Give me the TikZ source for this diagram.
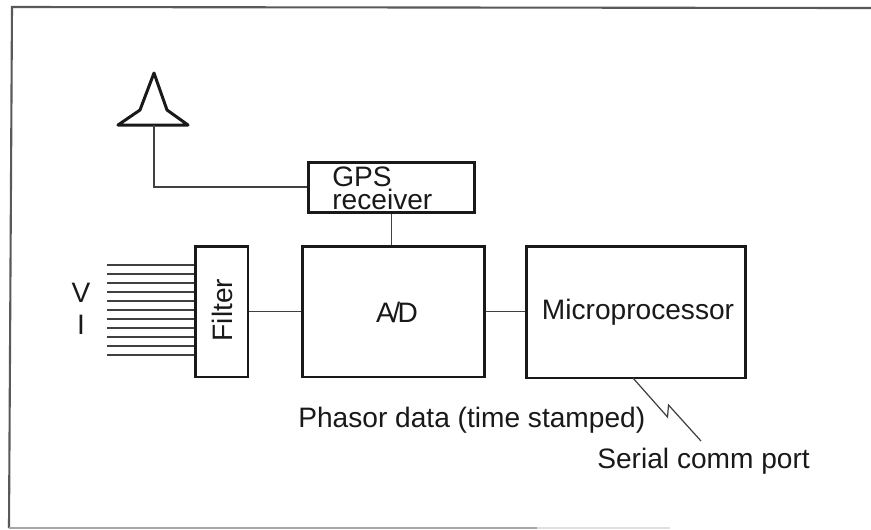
\documentclass[tikz,border=0pt]{standalone}
\usepackage{fontspec}
\setmainfont{Liberation Sans}
\usetikzlibrary{positioning}
\tikzset{
  blockbox/.style={draw=black!90, line width=1.7pt, fill=white, inner sep=0pt},
  wire/.style={draw=black!75, line width=1.1pt},
  lbl/.style={inner sep=0pt, text=black!90, font=\fontsize{16}{13}\selectfont}
}

\begin{document}
\begin{tikzpicture}[x=0.02cm, y=-0.02cm]
 \useasboundingbox (0,0) rectangle (871,529);

 % scanned page edge
 \coordinate (tr) at (871,8);
 \coordinate (tl) at (12,7);
 \coordinate (bl) at (9,528);
 \coordinate (bm) at (537,528);
 \coordinate (br) at (670,528);
 \draw[draw=black!65, line width=1.2pt] (tr) -- (tl) -- (bl);
 \draw[draw=black!35, line width=0.8pt] (bl) -- (bm);
 \draw[draw=black!12, line width=0.8pt] (bm) -- (br);

 % blocks
 \node[blockbox, minimum width=1.06cm, minimum height=2.62cm] (filter) at (221.5,311.5) {};
 \node[blockbox, minimum width=3.66cm, minimum height=2.62cm] (ad) at (393.5,311.5) {};
 \node[blockbox, minimum width=4.4cm, minimum height=2.64cm] (micro) at (636,312) {};
 \node[blockbox, minimum width=3.34cm, minimum height=1cm] (gps) at (391.5,187) {};

 % labels
 \node[lbl, rotate=90] (filtertxt) at (222,310) {Filter};
 \node[lbl] (adtxt) at (397,312) {A\kern-1.5pt/\kern-1.5pt D};
 \node[lbl] (microtxt) at (638,312) {Microprocessor};
 \node[lbl, align=left, anchor=west] (gpstxt) at (332,188) {GPS\\receiver};
 \node[lbl] (vtxt) at (81,293) {V};
 \node[lbl] (itxt) at (81,325) {I};
 \node[lbl, anchor=base west] (phasor) at (298,427) {Phasor data (time stamped)};
 \node[lbl, anchor=base west] (serial) at (597,468) {Serial comm port};

 % antenna
 \coordinate (ant) at (154,125);
 \draw[blockbox, line join=round] (118,125) -- (140,110) -- (154,73) -- (167,110) -- (188,125) -- cycle;
 \draw[wire] (ant) |- (gps.west);

 % lines
 \foreach \i in {0,...,10} {
   \coordinate (w\i) at (107,265+9*\i);
   \draw[wire] (w\i) -- (w\i -| filter.west);
 }
 \draw[wire] (filter.east) -- (ad.west |- filter.east);
 \draw[wire] (ad.east) -- (micro.west |- ad.east);
 \draw[wire] (gps.south) -- (gps.south |- ad.north);

 % serial port
 \coordinate (port) at (633,378);
 \coordinate (portend) at (701,441);
 \draw[wire, line width=0.7pt] (port) -- (667.5,417) -- (668.5,405) -- (portend);

\end{tikzpicture}
\end{document}
